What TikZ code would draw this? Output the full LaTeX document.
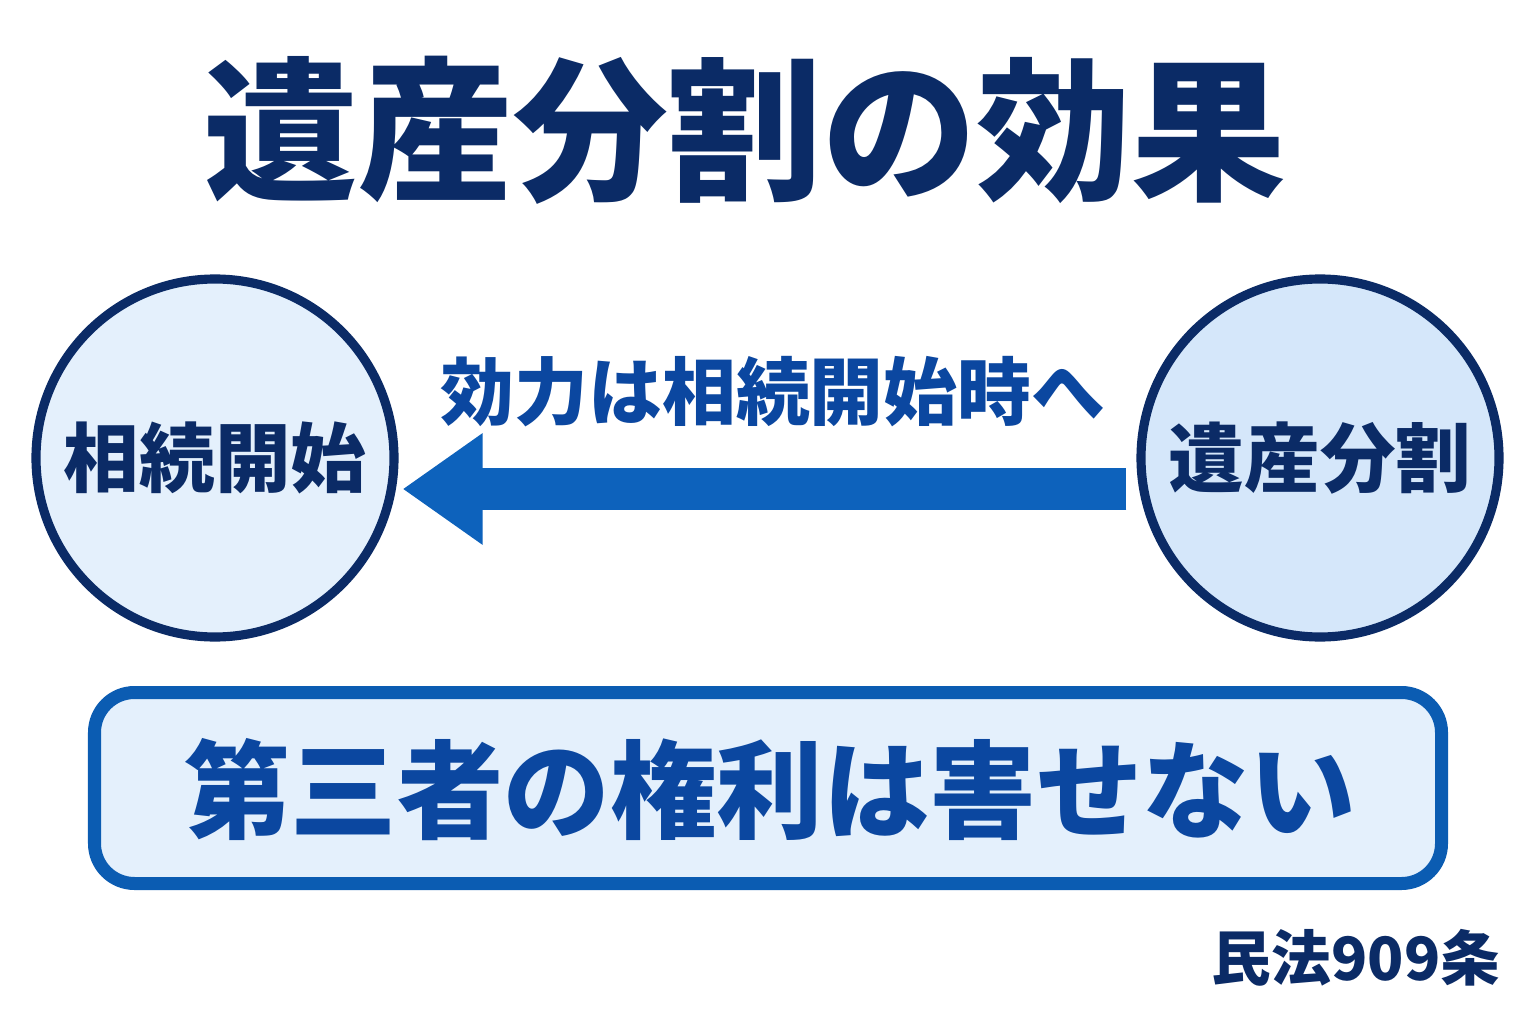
\documentclass[tikz,border=0pt]{standalone}
\usepackage{fontspec}
\setmainfont{Noto Sans CJK JP}
\usepackage{tikz}
\usetikzlibrary{arrows.meta}
\usepackage{xcolor}
\definecolor{navy}{HTML}{0B2B66}
\definecolor{arrowblue}{HTML}{0D62BC}
\definecolor{boxblue}{HTML}{0B5CB2}
\definecolor{textblue}{HTML}{0B47A0}
\definecolor{paleA}{HTML}{E4F0FC}
\definecolor{paleB}{HTML}{D5E7FA}

\begin{document}
\begin{tikzpicture}[
    stage/.style={circle, draw=navy, line width=2.6pt, minimum size=3.58cm,
        inner sep=0pt, text=navy, font=\bfseries\fontsize{21.5}{24}\selectfont},
    ]
        % Canvas
        \useasboundingbox (0,0) rectangle (15.36,10.24);
        \fill[white] (0,0) rectangle (15.36,10.24);

        % Title
        \node[navy, font=\bfseries\fontsize{44}{48}\selectfont] (title) at (7.45,8.94) {遺産分割の効果};

        % Circles
        \node[stage, fill=paleA] (start) at (2.15,5.66) {相続開始};
        \node[stage, fill=paleB] (split) at (13.20,5.66) {遺産分割};

        % Arrow (effect goes back)
        \draw[arrowblue, line width=0.42cm, shorten <=0.10cm, shorten >=0.04cm,
            -{Triangle[length=0.8cm, width=1.06cm]}]
            ([yshift=-0.31cm]split.west) -- ([yshift=-0.31cm]start.east);
        \node[textblue, font=\bfseries\fontsize{21}{24}\selectfont] (effect) at (7.73,6.32) {効力は相続開始時へ};

        % Box
        \node[draw=boxblue, line width=3.7pt, fill=paleA, rounded corners=0.4cm,
            minimum width=13.47cm, minimum height=1.91cm, inner sep=0pt] (box) at (7.68,2.36) {};
        \node[textblue, font=\bfseries\fontsize{30.3}{34}\selectfont] (third) at (7.70,2.34) {第三者の権利は害せない};

        % Source
        \node[navy, font=\bfseries\fontsize{17}{20}\selectfont] (law) at (13.56,0.66) {民法909条};
    \end{tikzpicture}
\end{document}
